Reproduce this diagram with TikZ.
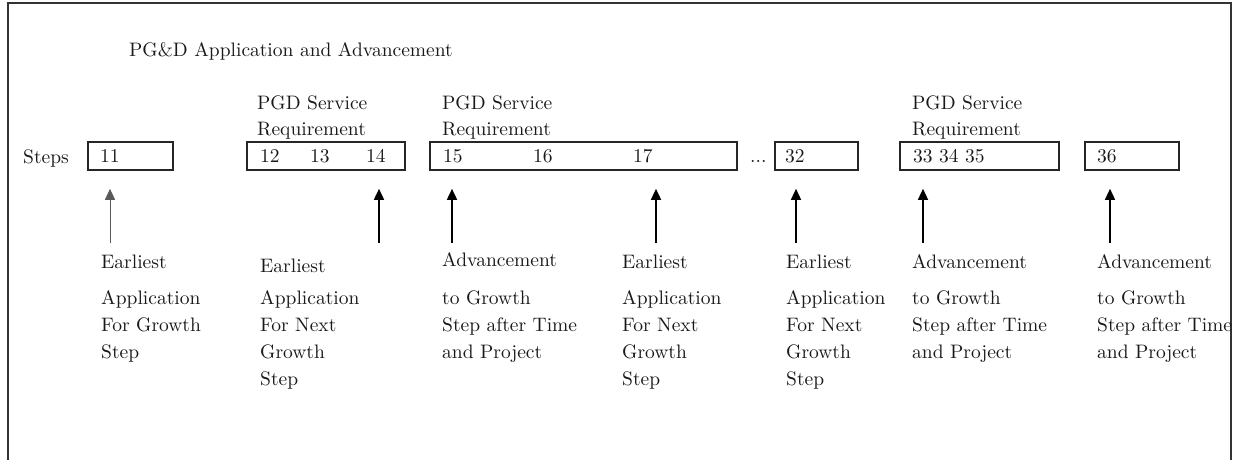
\documentclass[tikz,border=0pt]{standalone}
\usepackage{fontspec}
\setmainfont{lmroman10-regular.otf}
\usepackage{tikz}
\usetikzlibrary{positioning, arrows.meta, fit}

\tikzset{
    stepbox/.style={draw=black!85, line width=1.6pt, inner sep=0pt},
    txt/.style={anchor=base west, inner sep=0pt, text=black!90,
        font=\fontsize{19.5}{27}\selectfont, align=left},
    uparrow/.style={-{Triangle[length=11pt,width=10pt]}, line width=1.6pt},
}

\begin{document}
\begin{tikzpicture}[x=1pt, y=-1pt]
    \def\boxtop{142}
    \def\boxbot{170}
    \def\numline{162}
    \def\tailline{243}

    \useasboundingbox (0,0) rectangle (1234,460);

    % border
    \draw[black!80, line width=1.5pt] (8,462) -- (8,3) -- (1231,3) -- (1231,462);

    % title and row label
    \node[txt] (title) at (129,57) {PG\&D Application and Advancement};
    \node[txt] (steps) at (23,163) {Steps};

    % step boxes
    \foreach \name/\xa/\xb in {11/88/173, 12/247/405, 15/430/737,
                               32/775/858, 33/900/1059, 36/1085/1179}
    {
        \node[stepbox, fit={(\xa,\boxtop) (\xb,\boxbot)}] (box\name) {};
    }

    % step numbers
    \foreach \name/\x/\val in {11/100/11, 12/260/12, 13/310/13, 14/366/14,
                               15/443/15, 16/533/16, 17/633/17,
                               32/785/32, 33/913/{33 34 35}, 36/1097/36}
    {
        \node[txt] (num\name) at (\x,\numline) {\val};
    }
    \node[txt] (dots) at (750,\numline) {...};

    % service requirement (base = last line)
    \foreach \name/\x in {a/257, b/442, c/912}
    {
        \node[txt, font=\fontsize{19.5}{25}\selectfont] (req\name) at (\x,135)
            {PGD Service\\Requirement};
    }

    % arrows
    \foreach \i/\x/\target/\lw/\co in {1/110/box11/0.9pt/black!65,
                                       2/379/box12/1.6pt/black,
                                       3/452/box15/1.6pt/black,
                                       4/656/box15/1.4pt/black,
                                       5/796/box32/1.4pt/black,
                                       6/923/box33/1.4pt/black,
                                       7/1110/box36/1.4pt/black}
    {
        \coordinate (tail\i) at (\x,\tailline);
        \draw[uparrow, draw=\co, fill=black, line width=\lw, shorten >=18pt]
            (tail\i) -- (tail\i |- \target.south);
    }

    % explanations (base = last line)
    \node[txt] (lab1) at (101,358) {Earliest\\[9pt]Application\\For Growth\\Step};
    \node[txt] (lab2) at (260,385) {Earliest\\[5pt]Application\\For Next\\Growth\\Step};
    \node[txt] (lab3) at (442,358) {Advancement\\[11pt]to Growth\\Step after Time\\and Project};
    \node[txt] (lab4) at (622,385) {Earliest\\[9pt]Application\\For Next\\Growth\\Step};
    \node[txt] (lab5) at (786,385) {Earliest\\[9pt]Application\\For Next\\Growth\\Step};
    \node[txt] (lab6) at (912,358) {Advancement\\[9pt]to Growth\\Step after Time\\and Project};
    \node[txt] (lab7) at (1097,358) {Advancement\\[9pt]to Growth\\Step after Time\\and Project};

\end{tikzpicture}
\end{document}
